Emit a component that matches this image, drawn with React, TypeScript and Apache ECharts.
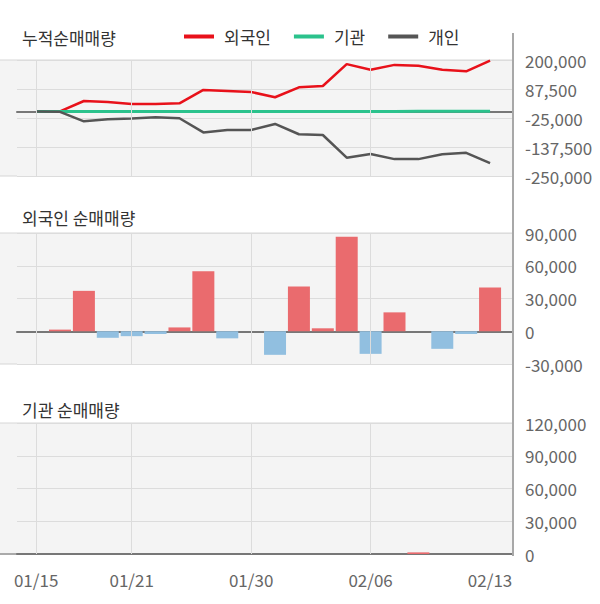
import React, { useEffect, useRef } from 'react';
import * as echarts from 'echarts';

const dates = ['01/15', '01/16', '01/17', '01/20', '01/21', '01/22', '01/23', '01/28', '01/29', '01/30', '01/31', '02/03', '02/04', '02/05', '02/06', '02/07', '02/10', '02/11', '02/12', '02/13'];
const labelIdx = [0, 4, 9, 14, 19];
const gridIdx = [0, 4, 9, 14];

const seriesNames = ['외국인', '기관', '개인'];
const foreignCum = [0, 1000, 41000, 37000, 29000, 29000, 32000, 84000, 80000, 76000, 55500, 94000, 99000, 184000, 162000, 181000, 178000, 162000, 156000, 198000];
const institutionCum = [0, 0, 0, 0, 0, 0, 0, 0, 0, 0, 0, 0, 0, 0, 0, 0, 1500, 1500, 1500, 1500];
const individualCum = [0, -1000, -38000, -30000, -27000, -22000, -26000, -81000, -71500, -71500, -48000, -88000, -91000, -179000, -164500, -184500, -184500, -166000, -160000, -200000];

const foreignDaily = [0, 1500, 37000, -6000, -4500, -2500, 3500, 55000, -6500, 0, -21600, 41000, 2700, 86600, -20700, 17300, 0, -16100, -2500, 40100];
const institutionDaily = [0, 0, 0, 0, 0, 0, 0, 0, 0, 0, 0, 0, 0, 0, 0, 0, 1500, 0, 0, 0];

const titles = ['누적순매매량', '외국인 순매매량', '기관 순매매량'];
const cumAxis = { min: -250000, max: 200000, interval: 112500 };
const foreignAxis = { min: -30000, max: 90000, interval: 30000 };
const instAxis = { min: 0, max: 120000, interval: 30000 };

const FONT = "'Noto Sans CJK KR', 'Noto Sans', sans-serif";

export default function App() {
  const ref = useRef<HTMLDivElement>(null);
  useEffect(() => {
    if (!ref.current) return;
    const chart = echarts.init(ref.current, undefined, { renderer: 'svg' });
    const panels = [
      { top: 60, bottom: 176, titleY: 37 },
      { top: 233, bottom: 364, titleY: 217 },
      { top: 423, bottom: 554, titleY: 409 },
    ];
    const axes = [cumAxis, foreignAxis, instAxis];
    const plotRight = 513;
    const plotLeft = 17;

    const grids = panels.map((p) => ({
      left: plotLeft,
      right: 600 - plotRight,
      top: p.top,
      height: p.bottom - p.top,
      show: true,
      backgroundColor: '#f4f4f4',
      borderWidth: 0,
    }));

    const xAxes = panels.map((_, g) => ({
      type: 'value',
      gridIndex: g,
      min: -0.8,
      max: 19.96,
      axisLine: { show: true, onZero: true, lineStyle: { color: '#777777', width: 2 } },
      axisTick: { show: false },
      splitLine: { show: false },
      axisLabel:
        g === 2
          ? {
              show: true,
              customValues: labelIdx,
              formatter: (v: number) => dates[Math.round(v)] ?? '',
              color: '#666666',
              fontSize: 17,
              fontFamily: FONT,
              margin: 17,
            }
          : { show: false },
    }));

    const yAxes = axes.map((a, g) => ({
      type: 'value',
      gridIndex: g,
      position: 'right',
      min: a.min,
      max: a.max,
      interval: a.interval,
      axisLine: { show: false },
      axisTick: { show: false },
      splitLine: { show: true, lineStyle: { color: '#dcdcdc', width: 1 } },
      axisLabel: {
        margin: 12,
        color: '#666666',
        fontSize: 17,
        fontFamily: FONT,
        formatter: (v: number) => v.toLocaleString('en-US'),
      },
    }));

    const gridLineSeries = panels.map((_, g) => ({
      type: 'line',
      name: 'grid' + g,
      xAxisIndex: g,
      yAxisIndex: g,
      data: [],
      z: 1,
      silent: true,
      markLine: {
        silent: true,
        symbol: ['none', 'none'],
        label: { show: false },
        lineStyle: { color: '#dcdcdc', width: 1, type: 'solid' },
        data: gridIdx.map((v) => ({ xAxis: v })),
      },
    }));

    const lineColors = ['#e8111a', '#2bc28c', '#555555'];
    const cumData = [foreignCum, institutionCum, individualCum];
    const lineSeries = seriesNames.map((name, k) => ({
      type: 'line',
      name,
      xAxisIndex: 0,
      yAxisIndex: 0,
      symbol: 'none',
      z: 3,
      lineStyle: { color: lineColors[k], width: k === 1 ? 3 : 2.5 },
      itemStyle: { color: lineColors[k] },
      data: cumData[k].map((v, i) => [i, v]),
    }));

    const barItem = (v: number, i: number) => ({
      value: [i, v],
      itemStyle: { color: v >= 0 ? '#ea6b6e' : '#91bfe0' },
    });

    const barSeries = [
      {
        type: 'bar',
        name: '외국인 순매매량',
        xAxisIndex: 1,
        yAxisIndex: 1,
        barWidth: 22,
        z: 3,
        data: foreignDaily.map(barItem),
      },
      {
        type: 'bar',
        name: '기관 순매매량',
        xAxisIndex: 2,
        yAxisIndex: 2,
        barWidth: 22,
        z: 3,
        data: institutionDaily.map(barItem),
      },
    ];

    const graphics: any[] = [];
    panels.forEach((p, g) => {
      graphics.push({
        type: 'rect',
        shape: { x: 0, y: p.top, width: plotLeft, height: p.bottom - p.top },
        style: { fill: '#f4f4f4' },
        silent: true,
      });
      graphics.push({
        type: 'line',
        shape: { x1: 0, y1: p.top, x2: plotRight, y2: p.top },
        style: { stroke: '#d6d6d6', lineWidth: 1 },
        silent: true,
      });
      graphics.push({
        type: 'line',
        shape: { x1: 0, y1: p.bottom, x2: plotLeft, y2: p.bottom },
        style: { stroke: g === 2 ? '#aaaaaa' : '#d6d6d6', lineWidth: g === 2 ? 2 : 1 },
        silent: true,
      });
      graphics.push({
        type: 'text',
        x: 22,
        y: p.titleY,
        style: {
          text: titles[g],
          fill: '#333333',
          font: `17px ${FONT}`,
          verticalAlign: 'middle',
          align: 'left',
        },
        silent: true,
      });
    });
    graphics.push({
      type: 'line',
      shape: { x1: plotRight, y1: 33, x2: plotRight, y2: 556 },
      style: { stroke: '#a8a8a8', lineWidth: 2 },
      silent: true,
      z: 10,
    });

    chart.setOption({
      animation: false,
      textStyle: { fontFamily: FONT },
      legend: {
        data: seriesNames,
        left: 184,
        top: 28,
        padding: 0,
        icon: 'rect',
        itemWidth: 30,
        itemHeight: 4,
        itemGap: 23,
        textStyle: { fontSize: 17, color: '#333333', fontFamily: FONT, padding: [0, 0, 0, 5] },
      },
      grid: grids,
      xAxis: xAxes,
      yAxis: yAxes,
      graphic: { elements: graphics },
      series: [...gridLineSeries, ...barSeries, ...lineSeries],
    });
    return () => chart.dispose();
  }, []);
  return <div ref={ref} style={{ position: 'fixed', left: 0, top: 0, width: 600, height: 604, background: '#ffffff' }} />;
}
